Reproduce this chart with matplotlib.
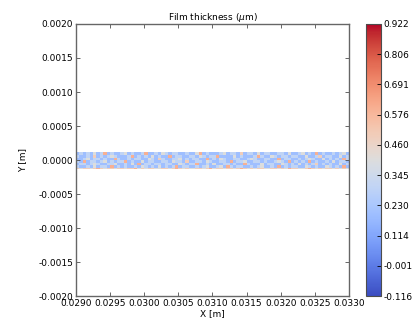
import matplotlib
matplotlib.use("Agg")
import matplotlib.pyplot as plt
from matplotlib.ticker import FormatStrFormatter
import numpy as np

# film thickness in tenths of a micron, one string per row, top of strip first
thickness_rows = [
    "45545654" "54455465" "54545545" "65454554" "45546545" "54455465" "45545456" "54454554" "45654545" "54545465",
    "23232423" "62322342" "32236223" "24323322" "32246232" "22342332" "52332423" "32233242" "23423262" "32232342",
    "32232523" "23432223" "62323242" "32262332" "23324323" "36222242" "32223632" "24323323" "32242235" "23322423",
    "22342332" "32263223" "23322432" "53223342" "32332262" "32432233" "22343223" "32262332" "23234322" "42323263",
    "32623323" "42323362" "32242332" "23324332" "52233243" "22332623" "34223323" "22343262" "32326232" "23242332",
    "23323432" "23342232" "42623323" "32332243" "23362232" "42233232" "26322242" "33224323" "24232352" "32322423",
    "32232423" "32623232" "23243232" "42323623" "32232342" "23426323" "32232342" "23262323" "32243232" "24323262",
    "54554565" "45545545" "56454554" "45545654" "54455456" "45545545" "65454554" "45545465" "54456545" "45545454",
]
x_range = (0.029, 0.033)
y_edges = [-0.000125, -0.000112, -0.0000747, -0.0000373, 0.0, 0.0000373, 0.0000747, 0.000112, 0.000125]
cbar_min, cbar_max = -0.1162, 0.9217

n_cols = min(len(r) for r in thickness_rows)
values = np.array([[int(c) / 10.0 for c in row[:n_cols]] for row in thickness_rows])[::-1]
x_edges = np.linspace(x_range[0], x_range[1], n_cols + 1)

fig = plt.figure(figsize=(4.13, 3.24), dpi=100)
ax = fig.add_axes([0.184, 0.086, 0.661, 0.84])
cax = fig.add_axes([0.886, 0.086, 0.036, 0.84])

mesh = ax.pcolormesh(x_edges, y_edges, values, cmap="coolwarm",
                     vmin=cbar_min, vmax=cbar_max, shading="flat")

ax.set_xlim(*x_range)
ax.set_ylim(-0.002, 0.002)
ax.set_xticks(np.arange(0.029, 0.03301, 0.0005))
ax.set_yticks(np.arange(-0.002, 0.00201, 0.0005))
ax.xaxis.set_major_formatter(FormatStrFormatter("%.4f"))
ax.yaxis.set_major_formatter(FormatStrFormatter("%.4f"))
ax.tick_params(direction="in", top=True, right=True, labelsize=6.5,
               length=3, width=0.6, color="0.3", pad=2)
for s in ax.spines.values():
    s.set_color("0.4")
    s.set_linewidth(1.0)
ax.set_xlabel("X [m]", fontsize=6.5, labelpad=1)
ax.set_ylabel("Y [m]", fontsize=6.5, labelpad=8)
ax.set_title("Film thickness ($\\mu$m)", fontsize=6.5, pad=3)

cb = fig.colorbar(mesh, cax=cax, ticks=np.linspace(cbar_min, cbar_max, 10))
cb.ax.yaxis.set_major_formatter(FormatStrFormatter("%.3f"))
cb.ax.tick_params(labelsize=6.5, length=3, width=0.6, direction="in", pad=2)
cb.outline.set_edgecolor("0.3")
cb.outline.set_linewidth(0.8)

fig.savefig("out.png", dpi=100)
